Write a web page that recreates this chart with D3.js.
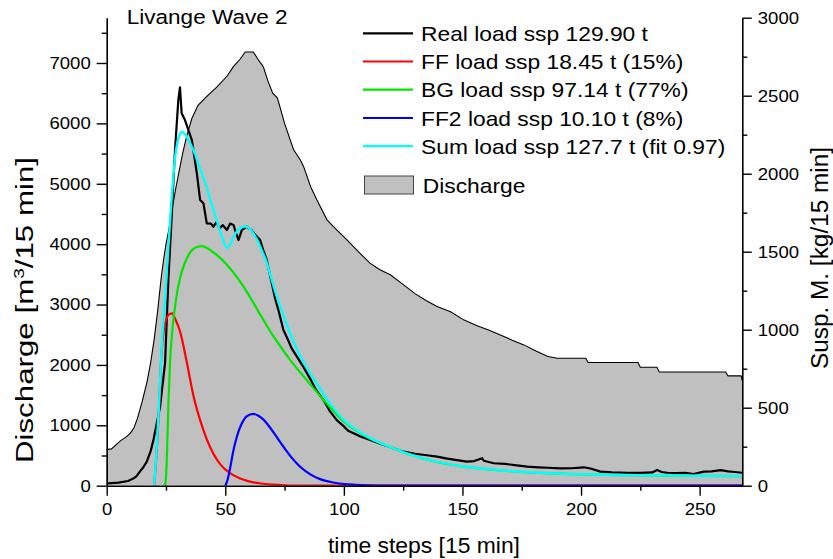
<!DOCTYPE html>
<html><head><meta charset="utf-8">
<script src="https://cdn.jsdelivr.net/npm/d3@7/dist/d3.min.js"></script>
<style>
html,body{margin:0;padding:0;background:#fff;}
text{font-family:"Liberation Sans",Arial,Helvetica,sans-serif;fill:#000;}
</style></head><body>
<svg id="c" width="833" height="559"></svg>
<script>
// ---------- data ----------
const dischargeT = [0,2,4,6,8,10,11.5,13,15,17,18.5,20,21.5,23,24,25,26,27,28,29,30.5,32,33.8,35.9,38.5,42,46.4,50.7,53.4,56.3,58.4,61.8,64,66,68,70,72,75,78.8,81.6,83,86,88.6,92.9,95.6,101.3,106,111,115,119.6,125.2,130,135,139.3,145,150.5,156.2,161,166,171,175.9,181,186,190,202,203,224,225,232,233,261,262,267.5,268];
const dischargeQ = [600,610,680,750,800,870,960,1120,1400,1720,2030,2420,2900,3450,3750,4000,4200,4420,4680,4900,5200,5500,5800,6080,6300,6440,6600,6780,6940,7066,7183,7183,7050,6940,6700,6500,6420,6000,5563,5398,5287,4950,4735,4403,4292,4072,3880,3686,3580,3492,3326,3180,3060,2967,2880,2746,2647,2580,2497,2410,2332,2230,2140,2111,2111,2039,2039,1962,1962,1884,1884,1818,1818,1740];

const realT = [0.5,5,9,11.3,12.5,14,15.5,16.9,18.5,19.7,21,22.5,24.6,26,27.4,28.8,30.2,30.9,31.6,33,35.9,38,39.4,40.8,42.2,44,45,46.4,47.5,49,50.7,52,53.5,54.5,55.6,57,59,61,62.5,64.7,66,67.5,69,71,72.5,74.5,76,78,80.2,83,86,88,91.4,94,97,100,102,104.1,107,111.1,115,120,125.2,130,135,139.3,143,147,151.9,155,158.3,159,163.2,168,172,177.3,182,186,191.3,196,201.2,204,208.2,213,219.5,225,230,232.1,234,236.4,240,244,247.5,251.8,255,258.9,262,265,268];
const realL = [15,20,30,47,60,90,120,154,220,293,390,506,785,1319,1724,2152,2472,2554,2387,2344,2216,2003,1831,1810,1682,1680,1660,1692,1650,1670,1639,1680,1671,1620,1575,1640,1660,1640,1610,1575,1510,1447,1340,1200,1120,998,950,880,827,760,680,620,549,480,420,380,350,336,315,293,270,245,218,205,195,186,175,165,154,158,176,160,144,140,132,122,118,115,111,112,118,110,90,85,83,82,85,100,88,83,80,82,75,90,92,100,92,88,83];

const ffT = [20,21,22,23,24,25,26,27.6,29,30.9,33.8,36.6,39.4,42,45,48,52,56,60,65,70,75,85,95,268];
const ffL = [0,200,480,820,990,1060,1095,1105,1065,990,790,575,420,305,205,135,80,48,28,14,7,3,0.5,0,0];

const bgT = [24.3,24.8,25.3,26,26.7,27.4,29,30.9,33,35.2,37.5,40,45,50,55,60,65,70,75,80,85,90,95,100,105,110,115,120,125,130,135,140,145,150,160,170,180,190,200,220,240,268];
const bgL = [0,20,150,520,790,950,1170,1330,1430,1495,1527,1536,1495,1428,1335,1220,1090,965,855,755,665,575,488,410,355,310,275,245,215,190,168,150,136,124,106,93,84,77,72,67,64,62];

const ff2T = [50,51,52,53.5,55,57,59,61.8,64,66,69,72,75,78,81,84,87,90,95,100,105,110,120,135,268];
const ff2L = [0,40,110,230,320,400,445,460,448,425,370,305,240,180,130,92,63,42,22,11,6,3,1,0,0];

const sumT = [20,21,22,23.2,24.6,25.8,27.2,28.8,30.3,31.8,33,34.5,36.6,39.4,42.2,44,46.4,48.5,50.7,52,53.5,55.5,58.4,60.5,63.3,65.5,67.5,69,72,76,80,83,86,90,95,100,105,110,115,120,125,130,135,140,145,150,160,170,180,190,200,220,240,268];
const sumL = [0,220,500,891,1200,1480,1800,2100,2230,2269,2255,2215,2150,2030,1910,1815,1700,1600,1525,1545,1596,1640,1662,1645,1580,1505,1430,1350,1200,1030,880,790,715,620,510,420,360,313,276,246,216,191,169,151,137,125,107,94,85,78,73,68,65,63];

const xTicks = [0,50,100,150,200,250];
const xMinor = [25,75,125,175,225];
const yLeftTicks = [0,1000,2000,3000,4000,5000,6000,7000];
const yLeftMinor = [500,1500,2500,3500,4500,5500,6500,7500];
const yRightTicks = [0,500,1000,1500,2000,2500,3000];
const yRightMinor = [250,750,1250,1750,2250,2750];

const titleText = "Livange Wave 2";
const xTitle = "time steps [15 min]";
const legendLabels = ["Real load ssp 129.90 t","FF load ssp 18.45 t (15%)","BG load ssp 97.14 t (77%)","FF2 load ssp 10.10 t (8%)","Sum load ssp 127.7 t (fit 0.97)"];
const legendColors = ["#000000","#ff0000","#00e600","#0000ff","#00ffff"];
const dischargeLabel = "Discharge";

// ---------- layout ----------
const svg = d3.select("#c");
const L = 106.7, R = 742.3, T = 17.7, B = 485.7;
const x = d3.scaleLinear().domain([0,268]).range([L,R]);
const yQ = d3.scaleLinear().domain([0,7750]).range([B,T]);
const yL = d3.scaleLinear().domain([0,3000]).range([B,T]);

function stretch(sel, f){
  sel.each(function(){
    const len = this.getComputedTextLength();
    this.setAttribute("textLength", len*f);
    this.setAttribute("lengthAdjust","spacingAndGlyphs");
  });
}

svg.append("clipPath").attr("id","clip").append("rect")
  .attr("x",L).attr("y",T-2).attr("width",R-L).attr("height",B-T+2);

const g = svg.append("g").attr("clip-path","url(#clip)");

const qData = dischargeT.map((t,i)=>[t,dischargeQ[i]]);
g.append("path").datum(qData)
  .attr("d", d3.area().x(d=>x(d[0])).y0(yQ(0)).y1(d=>yQ(d[1])))
  .attr("fill","#c0c0c0");
g.append("path").datum([[0,0]].concat(qData))
  .attr("d", d3.line().x(d=>x(d[0])).y(d=>yQ(d[1])))
  .attr("fill","none").attr("stroke","#000").attr("stroke-width",1.1);

const lineL = d3.line().x(d=>x(d[0])).y(d=>yL(d[1]));
const smooth = d3.line().x(d=>x(d[0])).y(d=>yL(d[1])).curve(d3.curveMonotoneX);
function zip(a,b){return a.map((t,i)=>[t,b[i]]);}

g.append("path").datum(zip(realT,realL)).attr("d",lineL)
  .attr("fill","none").attr("stroke","#000").attr("stroke-width",2.2).attr("stroke-linejoin","round");
g.append("path").datum(zip(ffT,ffL)).attr("d",smooth)
  .attr("fill","none").attr("stroke",legendColors[1]).attr("stroke-width",2.2);
g.append("path").datum(zip(bgT,bgL)).attr("d",smooth)
  .attr("fill","none").attr("stroke",legendColors[2]).attr("stroke-width",2.2);
g.append("path").datum(zip(ff2T,ff2L)).attr("d",smooth)
  .attr("fill","none").attr("stroke",legendColors[3]).attr("stroke-width",2.2);
g.append("path").datum(zip(sumT,sumL)).attr("d",smooth)
  .attr("fill","none").attr("stroke",legendColors[4]).attr("stroke-width",2.4);

// ---------- axes ----------
function styleAxis(sel){
  sel.select(".domain").attr("stroke","#000").attr("stroke-width",1.6);
  sel.selectAll(".tick line").attr("stroke","#000").attr("stroke-width",1.4);
  sel.selectAll("text").style("font-family",'"Liberation Sans",Arial,sans-serif').style("font-size","17px").attr("fill","#000");
}
const fmt = d3.format("d");

const ax = svg.append("g").attr("transform",`translate(0,${B})`)
  .call(d3.axisBottom(x).tickValues(xTicks).tickFormat(fmt).tickSize(10).tickPadding(7).tickSizeOuter(0));
styleAxis(ax); stretch(ax.selectAll("text"),1.09);
svg.append("g").attr("transform",`translate(0,${B})`)
  .call(d3.axisBottom(x).tickValues(xMinor).tickFormat("").tickSize(5).tickSizeOuter(0))
  .call(s=>{s.select(".domain").remove(); s.selectAll("line").attr("stroke","#000").attr("stroke-width",1.4);});

const ayl = svg.append("g").attr("transform",`translate(${L},0)`)
  .call(d3.axisLeft(yQ).tickValues(yLeftTicks).tickFormat(fmt).tickSize(10).tickPadding(6).tickSizeOuter(0));
styleAxis(ayl); stretch(ayl.selectAll("text"),1.09);
svg.append("g").attr("transform",`translate(${L},0)`)
  .call(d3.axisLeft(yQ).tickValues(yLeftMinor).tickFormat("").tickSize(5).tickSizeOuter(0))
  .call(s=>{s.select(".domain").remove(); s.selectAll("line").attr("stroke","#000").attr("stroke-width",1.4);});

const ayr = svg.append("g").attr("transform",`translate(${R},0)`)
  .call(d3.axisRight(yL).tickValues(yRightTicks).tickFormat(fmt).tickSize(9.5).tickPadding(6).tickSizeOuter(0));
styleAxis(ayr); stretch(ayr.selectAll("text"),1.09);
svg.append("g").attr("transform",`translate(${R},0)`)
  .call(d3.axisRight(yL).tickValues(yRightMinor).tickFormat("").tickSize(5).tickSizeOuter(0))
  .call(s=>{s.select(".domain").remove(); s.selectAll("line").attr("stroke","#000").attr("stroke-width",1.4);});

// ---------- titles ----------
const tt = svg.append("text").attr("x",126.7).attr("y",24).style("font-size","20.5px").text(titleText);
stretch(tt,1.1);

const xt = svg.append("text").attr("x",424).attr("y",553).attr("text-anchor","middle").style("font-size","21.5px").text(xTitle);
stretch(xt,1.064);

const lt = svg.append("text").attr("transform","translate(33,310) rotate(-90)").attr("text-anchor","middle").style("font-size","23px");
lt.append("tspan").text("Discharge [m");
lt.append("tspan").attr("dy",-9).style("font-size","14px").text("3");
lt.append("tspan").attr("dy",9).text("/15 min]");
stretch(lt,1.36);

const rt = svg.append("text").attr("transform","translate(828,258) rotate(-90)").attr("text-anchor","middle").style("font-size","23px").text("Susp. M. [kg/15 min]");
stretch(rt,1.06);

// ---------- legend ----------
const rowY = [33.3,61.5,89.7,118,146.2];
const lg = svg.append("g");
legendLabels.forEach((lab,i)=>{
  lg.append("line").attr("x1",363).attr("x2",413).attr("y1",rowY[i]).attr("y2",rowY[i])
    .attr("stroke",legendColors[i]).attr("stroke-width",2.2);
  const t = lg.append("text").attr("x",421).attr("y",rowY[i]+7.6).style("font-size","21px").text(lab);
  stretch(t,1.086);
});
lg.append("rect").attr("x",364.5).attr("y",176).attr("width",49).attr("height",18)
  .attr("fill","#c0c0c0").attr("stroke","#444").attr("stroke-width",1);
const dt = lg.append("text").attr("x",422.7).attr("y",192.6).style("font-size","21px").text(dischargeLabel);
stretch(dt,1.086);
</script>
</body></html>
